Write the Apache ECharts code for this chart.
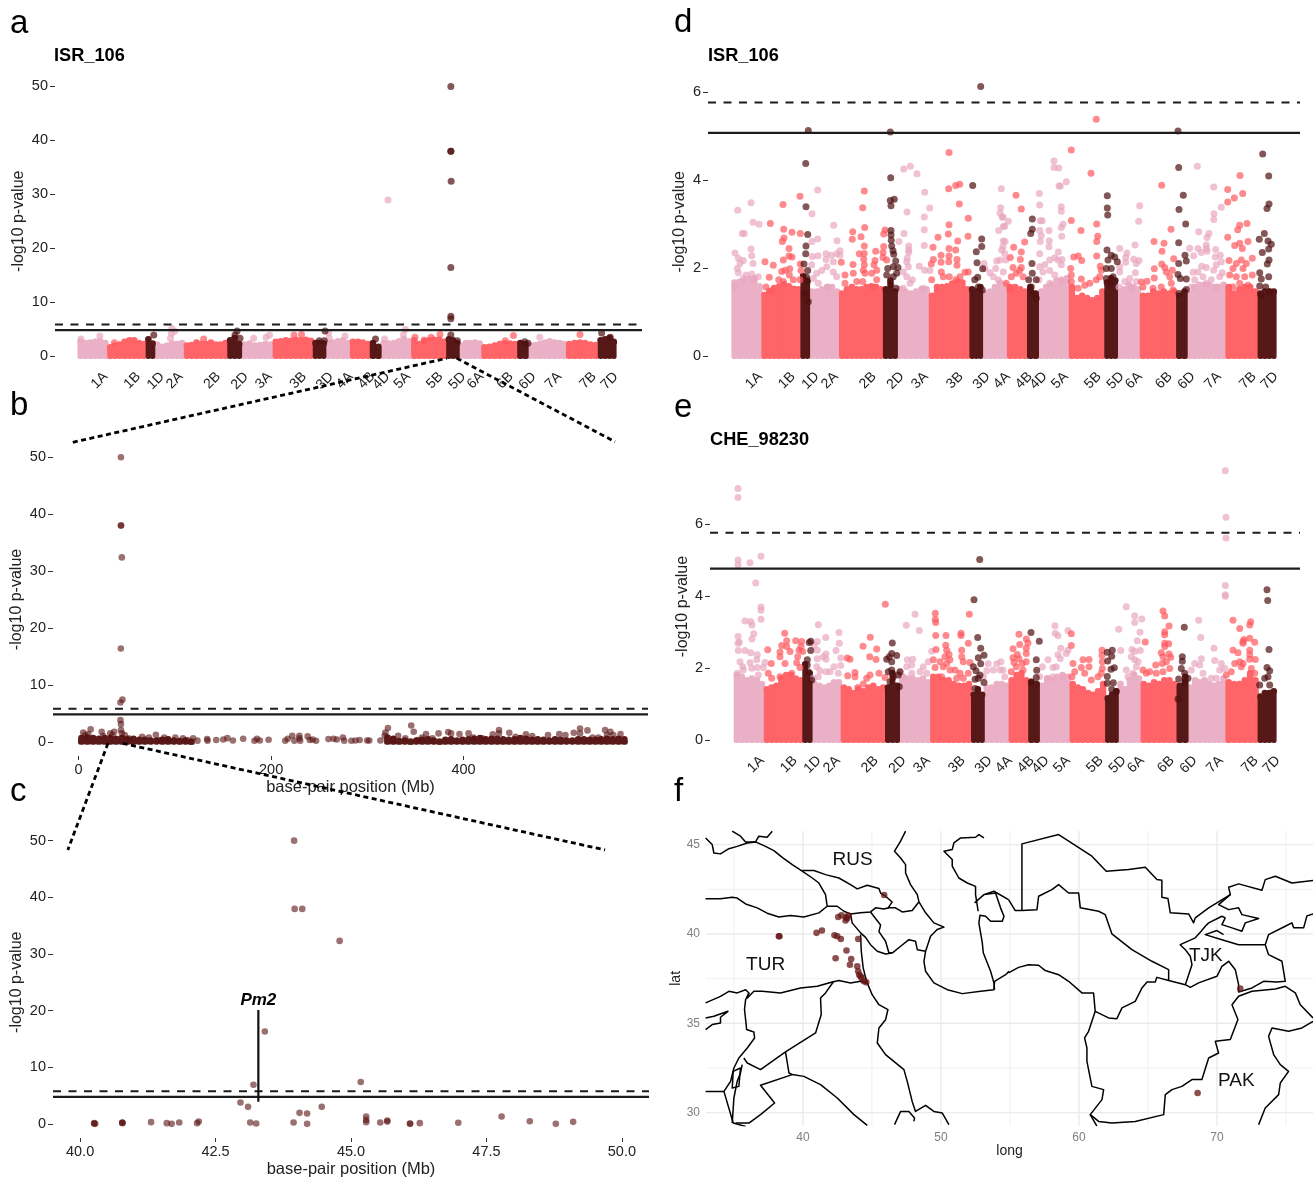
<!DOCTYPE html>
<html><head><meta charset="utf-8">
<style>html,body{margin:0;padding:0;background:#fff}#c{width:1313px;height:1179px}</style>
<script src="https://cdn.jsdelivr.net/npm/echarts@6/dist/echarts.min.js"></script>
</head><body><div id="c"></div>
<script>
const chromNames=['1A','1B','1D','2A','2B','2D','3A','3B','3D','4A','4B','4D','5A','5B','5D','6A','6B','6D','7A','7B','7D'];
const chromTicks=[28,61,85,104,142,170,194,229,256,276,298,313,334,367,390,408,438,461,487,522,544];
const chromEdges=[0,30,69,77.5,107.6,151.5,165.3,197.4,238,250.5,275.5,295.6,306.4,337.4,372.9,385.4,408.4,444.7,455.1,494,526.2,544];
const chromEdgesE=[0.3,30.4,68.9,78,107.3,151.6,165.4,196.7,237.6,250.2,275.2,294.8,305.3,336.2,371.7,384.2,407.2,443.1,454,492,524.2,542];
const ceilingA=[[2.9,2.7,2.8,2.9,3.0,2.7],[1.9,2.2,2.4,2.9,3.2,3.2,2.7,2.5],[3.4,2.6],[2.4,2.0,2.2,2.6,2.5,2.7],[2.2,2.3,2.8,2.5,2.5,2.8,2.4,2.4,2.7],[3.2,3.6,2.5],[2.4,2.6,2.2,2.3,2.5,2.4],[2.9,3.0,3.2,3.1,3.3,3.2,3.3,3.1],[2.7,2.7,2.6],[2.6,2.8,3.0,3.2,2.7],[2.9,2.9,2.8,2.5],[2.7,2.0],[2.6,2.6,2.7,3.0,3.4,3.0],[3.2,2.5,3.0,3.2,3.3,3.3,2.9],[3.4,3.2,2.7],[2.2,2.7,2.7,2.8,2.6],[1.9,2.0,2.2,2.5,2.6,2.6,2.5],[2.7,2.5],[2.2,2.3,2.5,2.8,3.0,2.8,2.7,2.5],[2.5,2.7,2.8,2.7,2.4,2.3],[3.2,3.4,3.6,2.9]];
const ceilingD=[[1.7,1.72,1.74,1.78,1.8,1.62],[1.42,1.5,1.58,1.62,1.66,1.62,1.56,1.55],[1.85,1.75],[1.5,1.5,1.55,1.6,1.6,1.5],[1.45,1.55,1.6,1.55,1.55,1.6,1.62,1.6,1.55],[1.55,1.75,1.5],[1.55,1.5,1.45,1.5,1.55,1.55],[1.4,1.6,1.6,1.62,1.68,1.72,1.7,1.55],[1.55,1.5,1.6],[1.45,1.5,1.6,1.7,1.65],[1.6,1.6,1.55,1.5],[1.6,1.45],[1.5,1.6,1.65,1.75,1.75,1.8],[1.6,1.35,1.4,1.35,1.3,1.35,1.5],[1.7,1.8,1.75],[1.5,1.55,1.65,1.6,1.55],[1.4,1.4,1.5,1.45,1.5,1.45,1.5],[1.4,1.5],[1.45,1.6,1.65,1.65,1.65,1.6,1.6,1.65],[1.6,1.45,1.55,1.6,1.6,1.5],[1.45,1.5,1.5,1.5]];
const ceilingE=[[1.85,1.8,1.7,1.75,1.7,1.6],[1.45,1.5,1.55,1.75,1.85,1.85,1.75,1.7],[2.15,1.9],[1.6,1.55,1.5,1.55,1.65,1.65],[1.5,1.45,1.35,1.45,1.4,1.5,1.55,1.45,1.5],[1.5,1.9,1.55],[1.8,1.75,1.75,1.7,1.75,1.65],[1.8,1.8,1.7,1.7,1.6,1.55,1.55,1.6],[1.3,1.45,1.3],[1.5,1.5,1.6,1.6,1.55],[1.7,1.85,1.9,1.7],[1.65,1.6],[1.55,1.75,1.7,1.8,1.85,1.8],[1.6,1.5,1.45,1.35,1.3,1.4,1.6],[1.2,1.3,1.4],[1.6,1.45,1.7,1.85,1.75],[1.6,1.55,1.65,1.6,1.7,1.7,1.6],[1.55,1.8],[1.5,1.7,1.65,1.7,1.6,1.55,1.6,1.75],[1.65,1.6,1.6,1.7,1.9,1.7],[1.25,1.35,1.35,1.4]];

const aPink=[[313.4,28.94],[94.8,5.1],[97.7,4.6],[94.4,4.2],[93.5,3.3],[331,4.9],[329,3.9],[253.3,4.3],[254,3.3],[193.6,3.9],[190.2,3.5],[177.6,3.3],[466.9,3.46],[22,3.7],[3,3.15],[270,3.7],[310,3.15]];
const aRed=[[507.6,4.0],[440.3,3.83],[366,4.0],[226,4.0],[218.4,3.9],[432,2.84],[357,3.46],[350,2.97],[340.7,3.46],[36.7,2.47],[127,3.15]];
const aDark=[[377,50],[377,38],[377,38],[377.3,32.4],[377,16.4],[377,7.4],[377,6.9],[377,3.9],[160.8,4.64],[163.8,3.3],[158.7,3.9],[249.8,4.64],[244,2.84],[249,2.84],[76.6,3.9],[300.8,3.15],[529.5,4.27],[383.6,2.84],[455,2.35],[451.7,2.66],[538.3,3.46]];

const bStripLeft=[0.9,1.0,0.9,0.8,0.9,0.9,0.8,0.9,0.7,0.8,0.6,0.6,0.5,0.5,0.6,0.7,0.5,0.4,0.5,0.3];
const bStripRight=[1.0,0.8,0.4,0.5,0.3,0.5,0.6,0.7,0.5,0.3,0.6,0.7,0.5,0.6,0.7,0.8,0.9,0.7,0.8,0.8,0.7,0.6,0.7,0.9,0.8,0.6,0.7,0.6,0.5,0.7,0.6,0.5,0.5,0.7,0.7,0.6,0.6,0.7,0.8,0.7,0.8,0.7];
const bPoints=[[44,50],[44,38],[44.1,38],[44.9,32.4],[43.9,16.4],[45.6,7.4],[43.5,6.9],[43.5,3.8],[44,3.1],[44,2.05],[44.9,1.5],[4.8,1.64],[12.5,2.17],[10,1.3],[6.9,1.17],[24,1.76],[25.5,1],[32.8,1.47],[37,1.76],[35,1.17],[47.9,1.17],[52,0.6],[66,0.88],[73,0.76],[80.3,1.23],[84,0.3],[89,0.76],[93,0.3],[100.6,0.76],[108.4,0.6],[113,0.3],[119,0.6],[123.5,0.2],[133.5,0.47],[134,0.2],[143,0.3],[150.3,0.4],[154.6,0.64],[160.3,0.23],[171,0.53],[182.7,0.18],[185.3,0.53],[188.3,0.23],[197.4,0.35],[214.7,0.18],[217.3,0.53],[222,1.05],[224.2,0.18],[229.4,1.05],[230.2,0.18],[229.4,0.6],[238,0.94],[240.2,0.3],[243.2,0.4],[246.7,0.18],[259.6,0.47],[264.8,0.53],[268.3,0.4],[274.7,0.76],[276,0.18],[283.4,0.18],[287.7,0.23],[292,0.3],[299.8,0.23],[302,0.23],[321.4,2.4],[318.8,1.64],[318,1.05],[313.6,0.23],[332,1.05],[326.6,0.3],[339.5,0.6],[345.6,2.87],[348.2,1.76],[352.5,0.3],[361,1.35],[356.8,0.76],[374,1.47],[367.6,0.6],[384,1.7],[387,1.47],[395.7,1.35],[405.2,1.47],[410,0.76],[419.4,0.6],[430.3,1.3],[436.8,2.05],[436.8,1.47],[447.5,1.58],[454,0.88],[464.8,1.3],[471.3,1],[487.7,1.17],[499.4,1.35],[505.8,1.17],[514.5,1.58],[521,2.34],[521,1.47],[528.7,2],[534,0.76],[547,2.05],[552.5,1.76],[555.5,1.17],[563,1.35],[549,1.17],[540,0.76]];
const bTicks=[0,200,400];
const cPoints=[[43.95,50],[43.96,37.95],[44.1,37.95],[44.79,32.3],[43.41,16.3],[43.2,6.9],[45.18,7.4],[42.96,3.76],[43.1,3],[44.05,1.94],[44.19,1.82],[44.46,3],[45.28,1.3],[45.28,0.7],[45.28,0.3],[45.54,0.24],[45.67,0.6],[45.67,0.4],[46.09,0.06],[46.09,0],[46.27,0.12],[46.98,0.18],[47.78,1.3],[48.3,0.47],[48.78,0],[49.1,0.35],[43.94,0.24],[44.19,0],[43.25,0.06],[43.14,0.24],[42.19,0.4],[42.16,0.12],[41.83,0.24],[41.69,0],[41.6,0.12],[41.31,0.3],[40.78,0.18],[40.78,0.12],[40.78,0.24],[40.26,0.12],[40.26,0.06],[40.28,0]];
const cTicks=[40,42.5,45,47.5,50];
const pm2Line=[[43.29,20.1],[43.29,3.9]];
const pm2Label=[[43.29,21.8]];

const dPink=[[5.7,3.31],[19,3.48],[21,3.04],[27,2.99],[10.3,2.78],[12.3,2.78],[19,2.43],[19.7,2.28],[21,2.1],[3,2.34],[6.3,2.22],[11.3,2.17],[8,2.1],[5.3,1.99],[6.3,1.89],[14,1.84],[19.7,1.86],[11.3,1.76],[26.3,1.8],[3,1.57],[21.3,1.73],[85.7,3.77],[80,3.23],[101.7,2.97],[85.7,2.66],[80,2.6],[105,2.62],[86,2.28],[80.3,2.26],[94,2.32],[99.3,2.29],[104.7,2.32],[108,2.39],[108,2.29],[94,2.19],[101.3,2.14],[79.7,2.07],[94.7,2.03],[101.3,1.91],[84.7,1.88],[89.7,1.94],[81.3,1.76],[104.7,1.8],[96.3,1.57],[86.3,1.65],[171.7,4.25],[178.3,4.31],[185,4.14],[192.7,3.72],[197.7,3.36],[175,3.27],[192.3,3.16],[192.3,2.87],[172,2.78],[167,2.6],[192.3,2.51],[176.7,2.5],[176.7,2.41],[176.7,2.35],[175.3,2.22],[174.7,2.14],[176.3,2.03],[187.3,2.04],[192.7,1.95],[198,1.94],[171.3,1.91],[174.7,1.8],[180.3,1.73],[178,1.65],[171.3,1.54],[191.3,1.54],[269.3,3.8],[268.7,3.37],[268,3.24],[270.3,3.15],[271.3,2.94],[266.7,2.85],[271.3,2.61],[252,2.1],[253,1.99],[258,1.89],[263.7,1.99],[264.7,2.16],[268,2.18],[269.7,2.41],[271.3,1.91],[261.3,1.8],[266.3,1.73],[322,4.43],[322,4.28],[326.7,4.27],[334.3,3.96],[327,3.86],[328.3,3.86],[307.3,3.69],[307.7,3.43],[329.3,3.39],[329.3,3.29],[308.3,3.07],[310.3,3.07],[331,2.99],[329.3,2.92],[276.3,3.06],[272.7,2.95],[271,3.16],[307.7,2.85],[317,2.85],[309.3,2.73],[329.7,2.72],[273,2.6],[308.3,2.6],[317.3,2.62],[317,2.48],[271,2.48],[326.3,2.36],[307.7,2.32],[317.7,2.18],[322.7,2.23],[330,2.19],[312.7,2.07],[326,2.18],[307.7,2.03],[329.3,2.07],[317.7,1.94],[311,1.91],[322.7,1.84],[307,1.73],[317.7,1.65],[329.3,1.73],[272.7,2.33],[273.7,2.18],[387.7,2.44],[403,2.52],[407.7,3.41],[406.7,3.06],[395,2.34],[393.7,2.24],[393.7,2.13],[401.7,2.2],[407,2.17],[387.7,2.03],[404.3,2.1],[387.7,1.91],[403.3,1.89],[397.7,1.76],[392.7,1.69],[404.3,1.69],[387,1.57],[399.3,1.54],[465.3,4.31],[481.7,3.84],[489.3,3.38],[482,3.23],[481.7,3.1],[466.7,2.82],[477,2.78],[475,2.69],[457.7,2.45],[466,2.44],[474.3,2.52],[474.3,2.44],[483.7,2.42],[461.7,2.28],[469.3,2.35],[475,2.38],[488.3,2.29],[483.3,2.25],[489.3,2.14],[469.7,2.04],[474.3,2.01],[484.3,2.07],[461,1.9],[466,1.91],[481.7,1.95],[490.3,1.89],[471,1.8],[462.7,1.73],[479.3,1.73],[487.7,1.8],[474.3,1.65],[459.3,1.57],[484.3,1.57]];
const dRed=[[217,4.62],[216.7,3.8],[223.7,3.87],[227.7,3.9],[68,3.63],[132.3,3.75],[130.7,3.37],[51,3.44],[227.3,3.45],[236.3,3.13],[38.3,3.01],[132.7,2.92],[217,2.98],[51.7,2.88],[60,2.81],[68.3,2.78],[120.7,2.82],[153,2.86],[151.7,2.77],[216.3,2.77],[52,2.68],[50.3,2.6],[129,2.71],[120.3,2.65],[132.3,2.5],[206,2.7],[236,2.72],[225.7,2.61],[201,2.47],[217,2.44],[223.7,2.41],[57,2.44],[151.7,2.49],[143.7,2.38],[151,2.35],[132.3,2.33],[127.3,2.32],[57,2.27],[60,2.25],[51.3,2.18],[33,2.14],[41.3,2.06],[109.3,2.13],[121,2.08],[131.7,2.2],[132.3,2.07],[143,2.17],[142,2.07],[151,2.24],[154.7,2.18],[209,2.29],[217,2.27],[209,2.13],[216.7,2.14],[225,2.19],[225,2.06],[199.3,2.09],[201.3,2.19],[68.3,2.09],[69,1.94],[49.7,1.92],[53.3,1.95],[57.7,1.98],[37.3,1.79],[46.7,1.73],[57.3,1.84],[51.3,1.69],[113,1.84],[121.3,1.88],[133,1.88],[131.3,1.95],[144.7,1.95],[139.7,1.88],[124.7,1.69],[113,1.65],[209.3,1.91],[199.7,1.73],[211.3,1.8],[217.3,1.8],[228,1.8],[236.3,1.91],[233,1.9],[224,1.73],[34,1.57],[39.7,1.48],[61.3,1.73],[68,1.73],[144.7,1.73],[141.3,1.57],[130.7,1.69],[364.3,5.38],[339.3,4.68],[359,4.15],[284,3.65],[289.3,3.34],[339.3,3.08],[364.7,3.0],[349,2.85],[365.7,2.72],[364.7,2.6],[292.7,2.59],[281.7,2.47],[289.3,2.36],[278.3,2.24],[288.3,2.19],[341.7,2.25],[346.3,2.27],[349.7,2.17],[364.7,2.27],[368.3,2.04],[338.7,1.99],[339.3,1.84],[349.3,1.75],[357.7,1.65],[352.7,1.61],[346,1.54],[364.3,1.73],[367.7,1.8],[369.3,1.95],[339.3,1.69],[281,2.01],[289.3,2.01],[284.3,1.88],[279.3,1.8],[291,1.8],[287.7,1.94],[277.7,1.52],[274.3,1.65],[429.7,3.88],[439,2.88],[422,2.6],[432,2.56],[430,2.38],[441.7,2.21],[429.7,2.09],[422.3,1.98],[432.7,2.01],[422.3,1.77],[434.3,1.91],[440.3,1.95],[415,1.7],[409.3,1.68],[437.7,1.8],[439.3,1.65],[411,1.57],[421,1.54],[429.3,1.57],[441,1.5],[508,4.1],[495.7,3.78],[510.7,3.69],[502.3,3.59],[495.7,3.5],[515,3.01],[507.7,2.97],[505.7,2.87],[495.7,2.7],[516,2.6],[502.7,2.51],[507.7,2.56],[510.3,2.44],[520.3,2.22],[497,2.17],[509.3,2.18],[504.3,2.1],[514.3,2.1],[501,1.99],[511,1.99],[497.7,1.84],[504.3,1.8],[520.3,1.84],[512.7,1.8],[507.7,1.65],[501,1.57],[516,1.61]];
const dDark=[[248.7,6.12],[76.3,5.12],[158.3,5.09],[73.7,4.37],[158.7,4.05],[162.3,3.56],[158.3,3.53],[159,3.41],[74,3.39],[240.7,3.87],[75.7,2.76],[74,2.5],[73.7,2.32],[249.7,2.66],[249.7,2.49],[244.3,2.37],[245,2.12],[250.7,1.98],[245.7,1.79],[242.7,1.73],[159,2.85],[159,2.75],[159.3,2.63],[159.7,2.5],[161,2.39],[161.7,2.31],[163.7,2.16],[161.3,2.03],[166,2.01],[155.7,1.99],[164.7,1.88],[154.7,1.84],[161.3,1.8],[158.7,1.63],[164,1.54],[72,2.09],[75.7,1.94],[74.7,1.79],[75.3,1.69],[73,1.42],[76.3,1.23],[246.3,1.57],[250.3,1.5],[300.3,3.11],[300.3,2.88],[298.7,2.78],[300,2.1],[300.3,1.88],[296.7,1.73],[304.3,1.73],[299.3,1.57],[304.3,1.31],[301,1.42],[375.3,3.64],[375.3,3.36],[375.7,3.2],[375,2.41],[379.3,2.29],[382.7,2.25],[385.3,2.14],[376,2.18],[379.3,1.99],[374.3,1.99],[381,1.8],[374.3,1.76],[377.7,1.65],[446,5.11],[446.7,4.28],[451.3,3.65],[447,3.33],[453.7,3.0],[446.7,2.57],[453,2.29],[454.3,2.16],[446.7,2.1],[446,1.85],[448.3,1.76],[454.3,1.75],[454.3,1.51],[447,1.42],[530.7,4.59],[536.7,4.09],[537,3.45],[535,3.35],[532.3,2.78],[527.3,2.65],[536,2.61],[539.3,2.54],[536.7,2.43],[530.3,2.35],[537,2.18],[535.3,2.09],[527.7,1.89],[529.3,1.75],[536.7,1.8],[527.7,1.59],[533.7,1.57],[537.7,1.46],[529.3,1.38]];

const ePink=[[4,7.0],[4,6.75],[4,5.01],[4,4.88],[16,4.93],[27,5.11],[21.7,4.37],[27,3.7],[27,3.61],[27,3.36],[11,3.31],[16.7,3.3],[18,3.2],[19.7,2.96],[18,2.81],[4,2.88],[4,2.69],[5.3,2.72],[4.3,2.49],[11,2.49],[16.7,2.43],[23.3,2.37],[22.7,2.23],[6,2.18],[16,2.15],[31,2.16],[8.7,2.04],[23.3,2.02],[17.7,2.0],[29.3,2.02],[3.3,1.86],[9.3,1.95],[24.3,1.81],[84.3,3.21],[91.7,2.85],[105,2.99],[83.3,2.74],[105.3,2.69],[80,2.64],[83.3,2.5],[102,2.49],[92,2.39],[89.3,2.32],[83.3,2.26],[106.7,2.28],[92,2.25],[106.7,2.07],[100,2.04],[82.7,2.04],[86,1.93],[92,1.9],[96,1.9],[104.3,1.86],[84.3,1.76],[79.3,1.72],[181,3.5],[172.3,3.19],[185.3,3.05],[197.7,2.47],[173.3,2.23],[178.7,2.25],[194.3,2.18],[177.7,2.09],[172.7,2.04],[189.3,2.04],[166,1.9],[186,1.9],[177.7,1.86],[169.3,1.76],[192.7,1.86],[254.3,2.12],[267,2.18],[262.7,2.12],[252.7,1.93],[259.3,1.95],[266,1.95],[249.3,1.76],[491.3,7.49],[492,6.2],[492,5.62],[491.3,4.3],[491.3,4.04],[491.3,4.0],[392.3,3.71],[400.7,3.46],[407.7,3.37],[400.7,3.27],[384.7,3.08],[406,3.0],[403.3,2.76],[386.7,2.49],[398,2.52],[400.7,2.46],[406.3,2.49],[397.3,2.32],[400.7,2.23],[404,2.18],[402.3,2.04],[392.3,1.95],[399,1.86],[394,1.76],[321,3.18],[321.3,2.97],[324,2.9],[334,3.05],[326.7,2.55],[334,2.5],[332.3,2.41],[324,2.37],[326.3,2.26],[314,2.23],[319,2.02],[322.3,2.04],[308.3,2.04],[314,1.72],[305.7,1.76],[329,1.76],[319,1.76],[269,1.95],[270.7,1.76],[464.7,3.33],[466.7,2.85],[480,2.55],[467.3,2.26],[480.7,2.21],[460.7,2.13],[465.7,2.09],[487.3,2.13],[457.3,1.95],[485.7,1.95],[477.3,1.72],[490.7,1.99],[469,1.86],[482.3,1.72]];
const eRed=[[151.3,3.78],[201.3,3.53],[201.3,3.36],[201.7,3.27],[235.3,3.5],[201.7,2.91],[212,2.91],[227,2.97],[227,2.91],[234.3,2.69],[211.7,2.64],[202,2.52],[227.7,2.5],[212.7,2.5],[215,2.38],[211,2.32],[227.7,2.32],[206,2.18],[199.3,2.23],[229.3,2.18],[236,2.16],[212.7,2.13],[216,2.23],[201,2.02],[209.3,2.04],[221,1.95],[226,1.86],[216,1.95],[234.3,1.86],[229.3,1.72],[222.7,1.72],[207.7,1.76],[50.7,2.97],[33.7,2.51],[46,2.45],[46,2.32],[47.7,2.63],[52.7,2.76],[52.7,2.6],[56,2.46],[61.7,2.76],[67.7,2.74],[67,2.6],[65,2.5],[63.7,2.32],[68.7,2.46],[37.3,2.13],[51,2.13],[62.7,2.15],[66,2.02],[34.3,1.86],[37.7,1.72],[46,1.76],[57.7,1.86],[136.3,2.86],[129,2.61],[142.7,2.53],[135.7,2.32],[142,2.24],[113.3,2.28],[116,2.25],[113.7,1.79],[121,1.88],[121,1.76],[136,1.81],[145,1.86],[132.7,1.72],[151,1.74],[123.7,1.46],[129.3,1.56],[285,2.94],[292.3,2.81],[294,2.7],[279,2.54],[285.7,2.66],[292.3,2.55],[292.3,2.41],[283.3,2.38],[279,2.29],[285,2.26],[292.3,2.18],[280,2.16],[288.3,2.13],[282.3,2.04],[277.3,1.9],[289,1.95],[337.3,2.96],[337.3,2.63],[349,2.23],[355,2.24],[368,2.5],[368,2.35],[355,2.04],[368.3,2.18],[368.3,1.99],[347.3,2.02],[339,2.13],[350.7,1.86],[357.3,1.67],[364,1.76],[367.3,1.86],[340.7,1.9],[338,1.76],[429,3.59],[430.7,3.45],[435,3.17],[430.7,3.01],[430.7,2.93],[411.3,2.73],[430.7,2.69],[434.7,2.68],[430.7,2.6],[427.3,2.43],[435,2.39],[436.7,2.3],[429,2.32],[432.3,2.18],[428.3,2.13],[421.7,2.09],[409,1.95],[415.7,1.9],[422.3,1.86],[429,1.9],[412.3,1.86],[435.7,1.99],[499,3.33],[516.7,3.29],[515.7,3.2],[505.7,3.1],[515.7,2.83],[510,2.8],[509,2.69],[520.7,2.72],[515.7,2.5],[509,2.74],[499,2.5],[504,2.43],[515.7,2.37],[515.7,2.25],[521.3,2.24],[500.7,2.13],[505.7,2.18],[509,2.13],[517.3,1.99],[507.3,2.04],[497.3,1.9],[520.7,1.86],[492.3,1.81]];
const eDark=[[245.7,5.02],[240,3.9],[243.7,2.85],[246.7,2.55],[250,2.36],[244.3,2.29],[246.7,2.12],[239.3,2.04],[242,1.93],[246,1.81],[241,1.69],[250,1.6],[244.3,1.72],[241,1.43],[76.7,2.75],[75.3,2.71],[76.7,2.49],[73.3,2.23],[73.3,2.09],[74.3,1.9],[77.7,1.67],[158.3,2.7],[157.7,2.41],[162.7,2.35],[152.7,2.25],[155.3,2.32],[157.7,2.18],[157.7,1.95],[154.3,1.9],[166,1.9],[159.3,1.76],[164.3,1.81],[165.3,1.48],[156,1.62],[297,2.99],[305.3,2.75],[302.3,2.23],[302.7,1.94],[302.3,1.74],[297.3,1.62],[378.3,2.5],[373.3,2.44],[377.7,2.33],[373.7,2.2],[380.3,2.01],[377,1.97],[373.3,1.77],[379.3,1.59],[373.3,1.58],[377.7,1.41],[382.3,1.35],[450.3,3.14],[448.3,2.32],[448.3,2.19],[447.3,1.99],[450.7,1.86],[444.7,1.7],[454,1.72],[450.7,1.58],[444,1.14],[533,4.18],[533.7,3.88],[535,2.52],[533,2.02],[535.7,1.93],[534,1.76],[530.7,1.72],[525.7,1.53],[535.7,1.53]];

const thresholdsA=[5.87,4.82], thresholdsB=[5.8,4.8], thresholdsC=[5.76,4.76], thresholdsD=[5.76,5.07], thresholdsE=[5.77,4.77];
const connectorAB=[[[-5.3,-16],[373,-0.42]],[[383,-0.42],[543,-15.9]]];
const connectorBC=[[[30.5,-0.28],[-11.2,-19]],[[45.8,-0.28],[547,-19]]];

const samples=[[38.26,39.87],[38.3,39.87],[40.99,40.06],[41.38,40.19],[42.56,40.95],[42.8,41.04],[43.09,40.75],[43.21,40.86],[43.29,41.03],[43.14,40.93],[42.29,39.93],[42.49,39.87],[42.75,39.72],[44.01,39.72],[43.16,39.07],[42.37,38.64],[43.5,38.6],[43.41,38.28],[43.94,38.19],[44.01,37.91],[44.08,37.72],[44.25,37.54],[44.42,37.35],[44.59,37.29],[44.18,37.63],[45.89,42.18],[71.69,36.94],[68.6,31.1]];
const countryNames=['RUS','TUR','TJK','PAK'];
const countryAt=[[43.6,44.15],[37.3,38.25],[69.2,38.8],[71.4,31.8]];
const lonMajor=[40,50,60,70], lonMinor=[35,45,55,65,75], latMajor=[30,35,40,45], latMinor=[32.5,37.5,42.5];
const borders=[
[[32.95,45.37],[33.43,45],[33.55,44.53],[34.03,44.48],[34.64,44.77],[35.24,44.9],[35.97,45.09],[36.57,45.15],[37.29,44.9],[37.9,44.66],[38.5,44.28],[39.23,43.88],[39.95,43.51],[40.68,43.13],[41.16,42.85],[41.64,42.2],[41.76,41.55],[41.16,41.18],[40.07,40.95],[39.1,41.03],[38.26,40.95],[37.41,41.16],[36.69,41.46],[35.85,41.68],[35.24,42.01],[34.88,42.05],[34.03,41.97],[32.95,41.97]],
[[34.88,45.75],[35.48,45.47],[35.85,45.15],[36.57,45.15],[36.81,45.47],[37.41,45.41],[37.78,45.75]],
[[39.95,43.55],[40.8,43.55],[41.64,43.32],[42.61,43.13],[43.45,42.76],[43.94,42.52],[44.66,42.72],[45.51,42.54],[45.63,42.29],[45.99,42.11],[46.47,41.79],[46.18,41.46],[46.71,41.46],[47.2,41.23],[47.92,41.31],[48.4,41.79]],
[[47.44,45.75],[47.08,45.19],[46.64,44.63],[47.08,44.25],[47.44,43.88],[47.44,43.41],[47.8,42.76],[48.29,42.2],[48.41,41.79],[48.89,41.18],[49.49,40.62],[50.22,40.38],[49.73,40.25],[49.25,39.87],[48.89,39.03],[48.77,38.47],[48.89,37.91],[49.49,37.26],[50.46,36.88],[51.55,36.66],[52.88,36.79],[53.84,36.88],[53.89,37.35],[54.69,37.72],[54.93,37.91]],
[[41.76,41.55],[42.49,41.55],[42.97,41.27],[43.45,41.12],[44.18,41.18],[44.9,41.23],[45.27,41.46],[45.87,41.4],[46.23,41.46]],
[[44.9,41.23],[45.63,40.5],[45.51,40.13],[45.99,39.59],[46.23,38.95],[46.47,38.95]],
[[43.45,41.12],[43.57,40.62],[44.18,40.06],[44.54,39.81],[44.9,39.4],[45.39,39.03],[45.99,38.88],[46.47,38.93]],
[[46.47,38.93],[47.08,39.31],[47.68,39.68],[48.16,39.59],[48.29,39.12],[48.89,39.03]],
[[44.18,39.96],[44.23,39.03],[44.37,38.1],[44.49,37.72],[44.66,37.26]],
[[44.66,37.26],[45.02,36.6],[45.51,36.04],[46.16,35.76],[45.99,35.2],[45.51,34.74],[45.39,33.9],[45.99,33.25],[46.59,32.87],[47.32,32.41],[47.56,31.75],[47.92,30.63],[48.16,30.07],[48.29,29.98],[48.89,30.41],[49.49,30.07],[50.1,29.98],[50.58,29.33]],
[[46.64,29.33],[47.08,30.07],[47.68,30.07],[48.09,29.7],[48.04,29.51]],
[[32.95,36.14],[34.03,36.51],[34.64,36.79],[35.24,36.7],[35.85,36.88],[36.09,36.7],[35.97,36.42],[36.45,36.79],[37.05,36.79],[38.38,36.7],[39.83,36.98],[41.04,37.07],[42.13,37.31],[42.61,37.39],[43.45,37.26],[44.18,37.35],[44.66,37.26]],
[[42.2,37.31],[41.64,36.7],[41.28,36.42],[41.33,35.49],[40.92,34.46],[38.74,33.4],[36.93,32.41],[35.97,32.78],[35.72,33.06]],
[[36.09,36.7],[35.85,36.32],[35.77,35.77],[35.89,34.93],[35.92,34.65],[36.45,34.51],[36.5,34.18],[35.97,33.62],[35.36,33.06],[35,32.5],[34.76,31.75],[34.28,31.19],[32.95,31.19]],
[[35.6,32.69],[35.48,32.22],[35.24,31.75],[35,30.82],[34.88,29.42]],
[[38.74,33.4],[38.99,32.22],[39.23,32.13],[36.93,31.53],[37.95,30.54],[36.93,29.89],[36.09,29.42],[35.12,29.42]],
[[39.23,32.13],[40.07,32.03],[41.28,31.57],[42.49,30.82],[43.7,29.89],[44.66,29.29]],
[[34.28,31.19],[34.95,29.42],[35.85,29.23]],
[[34.95,32.31],[35.48,32.5],[35.36,31.47],[34.88,31.38],[34.95,32.31]],
[[32.95,35.3],[33.55,35.39],[34.57,35.67],[34.03,35.34],[34.03,35.02],[33.43,34.93],[32.95,34.65]],
[[53.12,45.37],[52.75,45.56],[52.51,45.41],[51.43,45.37],[50.94,45.09],[50.82,44.72],[50.22,44.63],[50.82,44.16],[50.82,43.8],[51.3,43.13],[51.91,42.85],[52.51,42.66],[52.51,42.2],[52.7,41.27]],
[[52.44,41.74],[53.12,42.2],[53.96,42.29],[54.32,41.46],[54.57,40.99],[54.45,40.71],[53.6,40.71],[53.24,40.99],[52.83,41.04],[52.75,40.62],[53,39.5],[53.07,38.95],[53.6,37.91],[53.84,37.26],[53.89,36.88]],
[[53.12,42.2],[53.84,42.39],[54.9,41.92]],
[[55.87,41.31],[55.87,45.04],[58.53,45.56],[60.94,44.35],[61.98,43.51],[63.6,43.6],[64.81,43.73],[65.65,43.04],[66.01,43],[66.01,42.05],[66.45,41.98],[66.62,41.18],[67.95,41.12],[68.31,40.62],[68.43,40.9]],
[[68.43,40.9],[69.4,41.46],[70.97,42.2],[70.85,42.61],[71.57,42.8],[73.26,42.44],[73.5,43.04],[74.23,43.23],[75.43,42.85],[76.96,42.99]],
[[70.97,42.2],[70.12,41.64],[70.85,41.36],[71.57,41.46],[71.81,41.08],[73.02,40.86],[72.05,40.62],[71.81,40.15],[71.09,40.34],[70.36,40.52],[70.6,40.9],[70.36,40.99],[69.4,40.62],[69.15,40.43],[68.86,40.15],[68.43,39.78],[67.34,39.4],[67.71,39.12],[68.07,38.75],[68.19,38.28],[67.71,37.16]],
[[67.71,37.16],[68.07,37.01],[68.67,37.26],[70,37.63],[70.36,38.19],[70.85,38.47],[71.33,38],[71.57,37.16],[71.57,36.75],[72.54,36.98],[73.38,37.35],[74.35,37.31],[74.95,37.35],[74.71,38.47],[73.74,38.84],[73.5,39.4],[71.57,39.4],[70.36,39.68],[69.15,39.96],[70,40.19],[70.48,39.96]],
[[73.5,39.4],[73.74,39.96],[74.95,40.43],[75.43,40.62],[75.56,40.34],[76.28,40.34],[76.52,41.01],[76.96,41.12]],
[[54.9,37.82],[55.63,38.13],[56.35,38.28],[57.08,38.25],[57.56,37.95],[58.53,37.72],[59.25,37.35],[60.22,36.7],[61.06,36.7],[61.18,35.67],[62.15,35.3],[62.75,35.26],[63.12,35.86],[64.08,36.23],[64.57,36.98],[64.93,37.31],[65.53,37.31],[65.65,37.57],[66.5,37.39],[67.71,37.16]],
[[66.5,37.39],[66.5,38],[65.29,38.47],[63.84,39.12],[62.39,40],[61.91,41.08],[61.43,41.27],[60.1,41.46],[59.98,42.29],[59.25,42.29],[58.53,42.76],[58.04,42.48],[57.08,42.11],[56.96,41.36],[55.87,41.31],[55.39,41.31],[54.9,41.92]],
[[61.18,35.67],[60.7,34.55],[60.41,34.18],[60.58,33.62],[60.58,32.87],[60.94,31.47],[61.79,31.29],[61.67,30.73],[60.82,29.89],[61.43,29.51],[62.39,29.42],[64.08,29.51],[66.14,29.89],[66.26,31.01],[66.74,31.29],[67.46,31.47],[68.19,31.85],[68.91,31.85],[69.4,33.06],[70.12,33.34],[69.88,33.99],[70.97,34.09],[71.52,35.21],[71.09,36.04],[71.57,36.51],[72.54,36.79],[74.23,36.92],[74.95,37.07],[75.68,36.7],[76.04,36.04],[76.96,35.3]],
[[76.96,35.11],[76.16,34.74],[75.19,34.55],[73.99,34.74],[73.74,34.27],[74.11,33.25],[74.59,32.69],[75.19,32.31],[74.59,31.66],[74.47,31.01],[73.5,30.26],[73.02,29.33]],
[[60.82,29.89],[61.3,29.24]]
];

const FONT='Liberation Sans';
const TXT='#222';
const PINK='rgba(232,167,191,0.7)',RED='rgba(255,89,94,0.7)',DARK='rgba(79,15,15,0.7)',DARK2='rgba(88,16,16,0.6)';
const groupColor={A:'#EAB0C5',B:'#FF6468',D:'#571818'};

function blockItem(params,api){
  const a=api.coord([api.value(0),api.value(2)]);
  const b=api.coord([api.value(1),0]);
  const fill=api.visual('color');
  return {type:'group',children:[
    {type:'rect',shape:{x:a[0]-0.6,y:a[1]+1,width:b[0]-a[0]+1.2,height:b[1]-a[1]+2,r:2.5},style:{fill:fill}},
    {type:'circle',shape:{cx:(a[0]+b[0])/2,cy:a[1]+1.5,r:3.3},style:{fill:fill}}
  ]};
}
function blocks(idx,data,color){
  return {type:'custom',xAxisIndex:idx,yAxisIndex:idx,renderItem:blockItem,data:data,itemStyle:{color:color},encode:{x:[0,1],y:2},silent:true,animation:false};
}
function slices(edges,ceil,g){
  const out=[];
  chromNames.forEach((n,i)=>{
    if(n[1]!==g)return;
    const w=(edges[i+1]-edges[i])/ceil[i].length;
    ceil[i].forEach((h,j)=>out.push([edges[i]+j*w,edges[i]+(j+1)*w,h]));
  });
  return out;
}
function strip(start,step,heights){
  return heights.map((h,i)=>[start+i*step,start+(i+1)*step,h]);
}
function pts(idx,data,color,size){
  return {type:'scatter',xAxisIndex:idx,yAxisIndex:idx,data:data,symbolSize:size||7,itemStyle:{color:color,opacity:1},silent:true,animation:false,z:3};
}
function rule(idx,p0,p1,width,color,dash,opts){
  return Object.assign({type:'line',xAxisIndex:idx,yAxisIndex:idx,data:[p0,p1],symbol:'none',lineStyle:{color:color||'#1c1c1c',width:width||2,type:dash||'solid'},silent:true,animation:false,z:4},opts||{});
}
function path(idx,data,width,color,dash,z,clip){
  return {type:'line',xAxisIndex:idx,yAxisIndex:idx,data:data,symbol:'none',lineStyle:{color:color,width:width,type:dash||'solid',join:'round'},silent:true,animation:false,z:z,clip:clip!==false};
}
function thresh(idx,t,x0,x1){
  return [rule(idx,[x0,t[0]],[x1,t[0]],2,'#1c1c1c',[8,7.5]),rule(idx,[x0,t[1]],[x1,t[1]],2.2,'#1c1c1c')];
}
function chromAxis(gi,min,max){
  return {type:'value',gridIndex:gi,min:min,max:max,splitLine:{show:false},axisLine:{show:false,onZero:false},axisTick:{show:false},
    axisLabel:{customValues:chromTicks,rotate:45,margin:5,fontSize:14,color:TXT,fontFamily:FONT,formatter:v=>chromNames[chromTicks.indexOf(v)]||''}};
}
function numAxis(gi,min,max,ticks,name,gap,fmt){
  return {type:'value',gridIndex:gi,min:min,max:max,name:name,nameLocation:'middle',nameGap:gap,nameMoveOverlap:false,nameTextStyle:{fontSize:16.5,color:TXT,fontFamily:FONT},
    splitLine:{show:false},axisLine:{show:false,onZero:false},axisTick:{customValues:ticks,length:4,lineStyle:{color:'#333'}},
    axisLabel:{customValues:ticks,margin:6,fontSize:14.5,color:TXT,fontFamily:FONT,formatter:fmt||(v=>String(v))}};
}
function yAxis(gi,min,max,ticks,gap){
  const a=numAxis(gi,min,max,ticks,'-log10 p-value',gap);
  a.nameTextStyle.fontSize=16;
  a.axisTick.length=5; a.axisLabel.margin=7;
  return a;
}
const Y50=[0,10,20,30,40,50];
const grid=[
 {left:55,top:73,width:587,height:296.5},
 {left:53,top:443,width:595,height:313},
 {left:53,top:826.5,width:596,height:311.5},
 {left:708,top:74,width:592,height:295.4},
 {left:710,top:459.7,width:590,height:293.7},
 {left:706,top:831,width:607,height:294.7}
];
const xAxis=[
 chromAxis(0,-23.3,570.3),
 numAxis(1,-26.6,591.6,bTicks,'base-pair position (Mb)',22.5),
 numAxis(2,39.5,50.5,cTicks,'base-pair position (Mb)',22.5,v=>v.toFixed(1)),
 chromAxis(3,-24,568),
 chromAxis(4,-24,566),
 {type:'value',gridIndex:5,min:32.98,max:76.96,name:'long',nameLocation:'middle',nameGap:18,nameMoveOverlap:false,nameTextStyle:{fontSize:14,color:TXT,fontFamily:FONT},splitLine:{show:false},axisLine:{show:false,onZero:false},axisTick:{show:false},
  axisLabel:{customValues:lonMajor,margin:6,fontSize:12,color:'#7f7f7f',fontFamily:FONT}}
];
const yAxes=[
 yAxis(0,-2.5,52.5,Y50,28),
 yAxis(1,-2.5,52.5,Y50,28),
 yAxis(2,-2.5,52.5,Y50,28),
 yAxis(3,-0.304,6.405,[0,2,4,6],20),
 yAxis(4,-0.373,7.8,[0,2,4,6],19),
 {type:'value',gridIndex:5,min:29.27,max:45.76,name:'lat',nameLocation:'middle',nameGap:23,nameMoveOverlap:false,nameTextStyle:{fontSize:14,color:TXT,fontFamily:FONT},splitLine:{show:false},axisLine:{show:false,onZero:false},axisTick:{show:false},
  axisLabel:{customValues:latMajor,margin:6,fontSize:12,color:'#7f7f7f',fontFamily:FONT}}
];
const series=[];
['A','B','D'].forEach(g=>series.push(blocks(0,slices(chromEdges,ceilingA,g),groupColor[g])));
series.push(pts(0,aPink,PINK),pts(0,aRed,RED),pts(0,aDark,DARK));
series.push(...thresh(0,thresholdsA,-23.3,570.3));
connectorAB.forEach(c=>series.push(path(0,c,2.8,'#000',[5,3.5],20,false)));
series.push(blocks(1,strip(0,6,bStripLeft).concat(strip(318,6,bStripRight)),'#5a1a1a'),pts(1,bPoints,DARK2,6.6));
series.push(...thresh(1,thresholdsB,-26.6,591.6));
connectorBC.forEach(c=>series.push(path(1,c,2.8,'#000',[5,3.5],20,false)));
series.push(pts(2,cPoints,DARK2,6.6));
series.push(...thresh(2,thresholdsC,39.5,50.5));
series.push(path(2,pm2Line,2.2,'#111',null,5));
series.push({type:'scatter',xAxisIndex:2,yAxisIndex:2,data:pm2Label,symbolSize:0,silent:true,animation:false,itemStyle:{opacity:1},label:{show:true,position:'inside',formatter:'Pm2',fontSize:17,fontWeight:'bold',fontStyle:'italic',color:'#000',fontFamily:FONT}});
['A','B','D'].forEach(g=>series.push(blocks(3,slices(chromEdges,ceilingD,g),groupColor[g])));
series.push(pts(3,dPink,PINK),pts(3,dRed,RED),pts(3,dDark,DARK));
series.push(...thresh(3,thresholdsD,-24,568));
['A','B','D'].forEach(g=>series.push(blocks(4,slices(chromEdgesE,ceilingE,g),groupColor[g])));
series.push(pts(4,ePink,PINK),pts(4,eRed,RED),pts(4,eDark,DARK));
series.push(...thresh(4,thresholdsE,-24,566));
lonMajor.forEach(v=>series.push(path(5,[[v,29.27],[v,45.76]],1.4,'#ebebeb',null,1)));
lonMinor.forEach(v=>series.push(path(5,[[v,29.27],[v,45.76]],0.7,'#ebebeb',null,1)));
latMajor.forEach(v=>series.push(path(5,[[32.98,v],[76.96,v]],1.4,'#ebebeb',null,1)));
latMinor.forEach(v=>series.push(path(5,[[32.98,v],[76.96,v]],0.7,'#ebebeb',null,1)));
borders.forEach(b=>series.push(path(5,b,1.5,'#000',null,2)));
series.push(pts(5,samples,'rgba(100,20,20,0.75)',6.6));
series.push({type:'scatter',xAxisIndex:5,yAxisIndex:5,data:countryAt.map((p,i)=>({value:p,name:countryNames[i]})),symbolSize:0,silent:true,animation:false,z:6,itemStyle:{opacity:1},
  label:{show:true,position:'inside',formatter:'{b}',fontSize:19,color:'#111',fontFamily:FONT}});

function heading(text,x,y,size,weight){
  return {text:text,left:x,top:y,padding:0,textStyle:{fontSize:size,fontWeight:weight,color:'#000',fontFamily:FONT}};
}
const chart=echarts.init(document.getElementById('c'),null,{renderer:'canvas'});
chart.setOption({animation:false,backgroundColor:'#fff',
 title:[heading('a',10,7,33,'normal'),heading('b',10,389,33,'normal'),heading('c',10,775,33,'normal'),heading('d',674,6,33,'normal'),heading('e',674,391,33,'normal'),heading('f',674,775,33,'normal'),
  heading('ISR_106',54,47,18.2,'bold'),heading('ISR_106',708,47,18.2,'bold'),heading('CHE_98230',710,431,18.2,'bold')],
 tooltip:{show:false},grid:grid,xAxis:xAxis,yAxis:yAxes,series:series});
</script></body></html>
